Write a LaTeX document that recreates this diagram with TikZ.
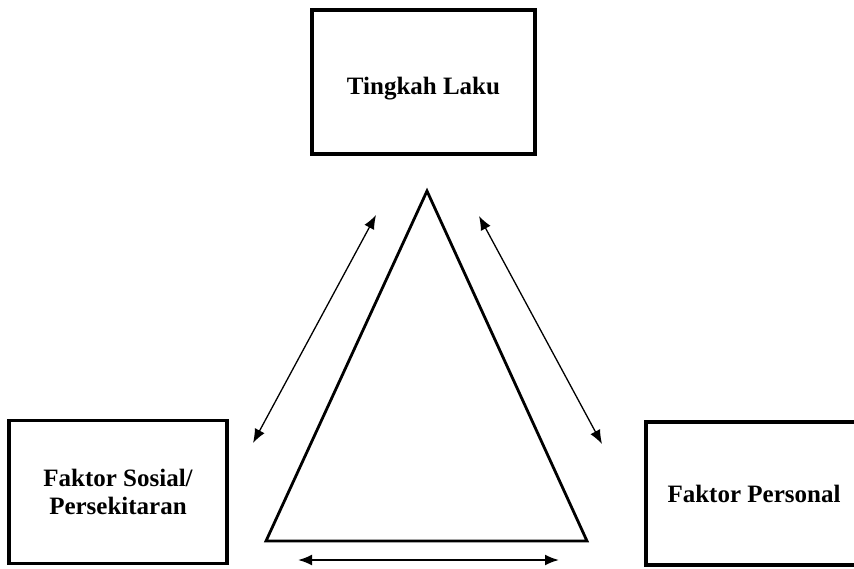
\documentclass[tikz,border=0pt]{standalone}
\usepackage{fontspec}
\setmainfont{Liberation Serif}
\usetikzlibrary{arrows.meta}

\tikzset{
  faktor/.style = {draw, line width=3.2pt, inner sep=0pt, align=center,
                   font=\fontsize{25}{28}\selectfont\bfseries},
  >={Latex[length=14pt,width=11pt]}
}

\begin{document}
\begin{tikzpicture}[x=1pt, y=-1pt]
				\useasboundingbox (0,0) rectangle (854,568);
				\node[faktor, minimum width=223pt, minimum height=144pt, text height=26pt, text depth=2pt] (laku) at (423.5,82) {Tingkah Laku};
				\node[faktor, minimum width=218pt, minimum height=143pt] (sosial) at (118,492) {Faktor Sosial/\\Persekitaran};
				\node[faktor, minimum width=216pt, minimum height=143pt] (personal) at (754,493.5) {Faktor Personal};
				% segitiga
				\coordinate (apex) at (427,191);
				\coordinate (bl) at (266,541);
				\coordinate (br) at (587,541);
				\draw[line width=2.8pt, line join=miter] (apex) -- (bl) -- (br) -- cycle;
				% panah dua arah
				\coordinate (a1) at (376,215);
				\coordinate (a2) at (253,443);
				\coordinate (b1) at (479,216);
				\coordinate (b2) at (602,444);
				\coordinate (c1) at (298,560);
				\coordinate (c2) at (559,560);
				\draw[line width=1.3pt, <->] (a1) -- (a2);
				\draw[line width=1.3pt, <->] (b1) -- (b2);
				\draw[line width=2pt, <->] (c1) -- (c2);
			\end{tikzpicture}
\end{document}
